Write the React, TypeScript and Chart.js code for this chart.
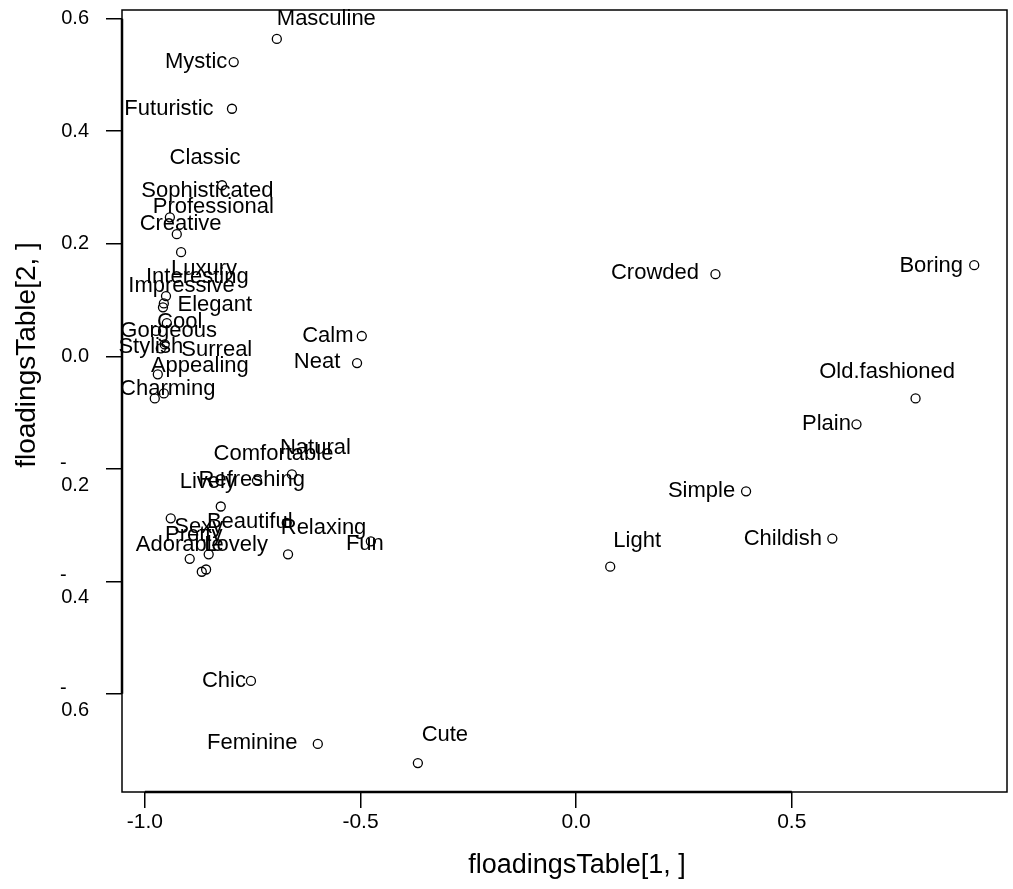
import React, { useEffect, useRef } from 'react';
import { Chart, registerables } from 'chart.js';

Chart.register(...registerables);

// ---- data ----
const words = [
  'Masculine', 'Mystic', 'Futuristic', 'Classic', 'Sophisticated', 'Professional', 'Creative',
  'Luxury', 'Interesting', 'Impressive', 'Elegant', 'Cool', 'Gorgeous', 'Stylish', 'Surreal',
  'Appealing', 'Charming', 'Calm', 'Neat', 'Natural', 'Comfortable', 'Lively', 'Refreshing',
  'Beautiful', 'Fun', 'Relaxing', 'Sexy', 'Pretty', 'Adorable', 'Lovely', 'Chic', 'Feminine',
  'Cute', 'Light', 'Crowded', 'Boring', 'Old.fashioned', 'Plain', 'Simple', 'Childish',
];
const loading1 = [
  -0.694, -0.794, -0.798, -0.821, -0.942, -0.926, -0.916,
  -0.951, -0.956, -0.958, -0.949, -0.954, -0.974, -0.963, -0.970,
  -0.956, -0.977, -0.497, -0.508, -0.659, -0.740, -0.824, -0.940,
  -0.671, -0.476, -0.668, -0.852, -0.896, -0.868, -0.858, -0.754, -0.599,
  -0.367, 0.079, 0.323, 0.923, 0.787, 0.650, 0.394, 0.594,
];
const loading2 = [
  0.564, 0.523, 0.440, 0.304, 0.247, 0.217, 0.185,
  0.107, 0.094, 0.087, 0.059, 0.021, 0.045, 0.014, -0.032,
  -0.066, -0.075, 0.036, -0.012, -0.210, -0.221, -0.267, -0.288,
  -0.296, -0.329, -0.352, -0.352, -0.360, -0.383, -0.379, -0.577, -0.689,
  -0.723, -0.374, 0.146, 0.162, -0.075, -0.121, -0.240, -0.324,
];
const xTickValues = [-1.0, -0.5, 0.0, 0.5];
const yTickValues = [0.6, 0.4, 0.2, 0.0, -0.2, -0.4, -0.6];
const xAxisTitle = 'floadingsTable[1, ]';
const yAxisTitle = 'floadingsTable[2, ]';

// ---- styling (label offsets in px, axis limits) ----
const labelDx = [
  49.5, -37.5, -63, -17, 37.5, 36.5, -0.5,
  38, 33.5, 18.5, 48, 15, 12.5, -10, 59,
  36, 13, -34, -40, 23.5, 16.5, -13, 81,
  -37, -6, 35.5, -10, 4, -22, 30, -27, -65.5,
  27, 27, -60.5, -43, -28.5, -30, -44.5, -49.5,
];
const labelDy = [
  -20, 0, 0, -27, -26, -27, -28,
  -27, -26, -21, -18, -23, 0, -1, -24,
  -27, -10, 0, -1, -26, -27, -25, -38,
  -1, 3, -26, -27, -24, -27, -25, 0, -1,
  -28, -26, -1, 1, -27, 0, 0, 0,
];
const xLimits = [-1.053, 0.999];
const yLimits = [-0.7745, 0.6155];

const FONT = '"Liberation Sans", Arial, Helvetica, sans-serif';

const labelPlugin = {
  id: 'pointLabels',
  afterDatasetsDraw(chart: any) {
    const ctx = chart.ctx;
    const meta = chart.getDatasetMeta(0);
    ctx.save();
    ctx.font = `22px ${FONT}`;
    ctx.fillStyle = '#000';
    ctx.textAlign = 'center';
    ctx.textBaseline = 'middle';
    meta.data.forEach((pt: any, i: number) => {
      ctx.fillText(words[i], pt.x + labelDx[i], pt.y + labelDy[i]);
    });
    ctx.restore();
  },
};

const framePlugin = {
  id: 'frame',
  afterDraw(chart: any) {
    const { ctx, chartArea } = chart;
    const xs = chart.scales.x;
    const ys = chart.scales.y;
    ctx.save();
    ctx.strokeStyle = '#000';
    ctx.lineWidth = 1.5;
    ctx.strokeRect(chartArea.left, chartArea.top, chartArea.right - chartArea.left, chartArea.bottom - chartArea.top);
    ctx.lineWidth = 2.5;
    ctx.beginPath();
    ctx.moveTo(xs.getPixelForValue(xTickValues[0]), chartArea.bottom);
    ctx.lineTo(xs.getPixelForValue(xTickValues[xTickValues.length - 1]), chartArea.bottom);
    ctx.moveTo(chartArea.left, ys.getPixelForValue(yTickValues[0]));
    ctx.lineTo(chartArea.left, ys.getPixelForValue(yTickValues[yTickValues.length - 1]));
    ctx.stroke();

    // axis titles
    ctx.fillStyle = '#000';
    ctx.textAlign = 'center';
    ctx.textBaseline = 'middle';
    ctx.font = `27px ${FONT}`;
    ctx.fillText(xAxisTitle, 577, 866);
    ctx.translate(27, 355);
    ctx.rotate(-Math.PI / 2);
    ctx.font = `28px ${FONT}`;
    ctx.fillText(yAxisTitle, 0, 0);
    ctx.restore();
  },
};

export default function App() {
  const ref = useRef<HTMLCanvasElement | null>(null);
  useEffect(() => {
    if (!ref.current) return;
    const points = loading1.map((x, i) => ({ x, y: loading2[i] }));
    const chart = new Chart(ref.current, {
      type: 'scatter',
      data: {
        datasets: [
          {
            data: points,
            pointRadius: 4.5,
            pointBorderWidth: 1.3,
            pointBackgroundColor: 'rgba(0,0,0,0)',
            pointBorderColor: '#000',
            pointHoverRadius: 4.5,
          },
        ],
      },
      options: {
        animation: false,
        responsive: false,
        devicePixelRatio: 1,
        layout: { padding: { left: 0, top: 10, right: 6, bottom: 0 } },
        plugins: { legend: { display: false }, tooltip: { enabled: false } },
        scales: {
          x: {
            type: 'linear',
            min: xLimits[0],
            max: xLimits[1],
            afterBuildTicks: (s: any) => {
              s.ticks = xTickValues.map((v) => ({ value: v }));
            },
            afterFit: (s: any) => {
              s.height = 97;
              s.paddingLeft = 0;
              s.paddingRight = 0;
            },
            border: { display: false },
            grid: { display: true, drawOnChartArea: false, drawTicks: true, tickLength: 16, color: '#000', lineWidth: 1.5 },
            ticks: {
              color: '#000',
              font: { family: FONT, size: 21 },
              padding: 2,
              maxRotation: 0,
              autoSkip: false,
              callback: (v: any) => Number(v).toFixed(1),
            },
            title: { display: false },
          },
          y: {
            type: 'linear',
            min: yLimits[0],
            max: yLimits[1],
            afterBuildTicks: (s: any) => {
              s.ticks = yTickValues.map((v) => ({ value: v }));
            },
            afterFit: (s: any) => {
              s.width = 122;
              s.paddingTop = 0;
              s.paddingBottom = 0;
            },
            border: { display: false },
            grid: { display: true, drawOnChartArea: false, drawTicks: true, tickLength: 16, color: '#000', lineWidth: 1.5 },
            ticks: {
              color: '#000',
              font: { family: FONT, size: 20, lineHeight: '11px' },
              padding: 17,
              autoSkip: false,
              callback: (v: any) => {
                const n = Number(v);
                if (n < -1e-9) return ['', '-    ', '', Math.abs(n).toFixed(1)];
                return Math.abs(n).toFixed(1);
              },
            },
            title: { display: false },
          },
        },
      },
      plugins: [labelPlugin, framePlugin],
    } as any);
    return () => chart.destroy();
  }, []);
  return (
    <div style={{ position: 'absolute', left: 0, top: 0, width: 1013, height: 889, background: '#fff' }}>
      <canvas ref={ref} width={1013} height={889} style={{ width: 1013, height: 889, display: 'block' }} />
    </div>
  );
}
